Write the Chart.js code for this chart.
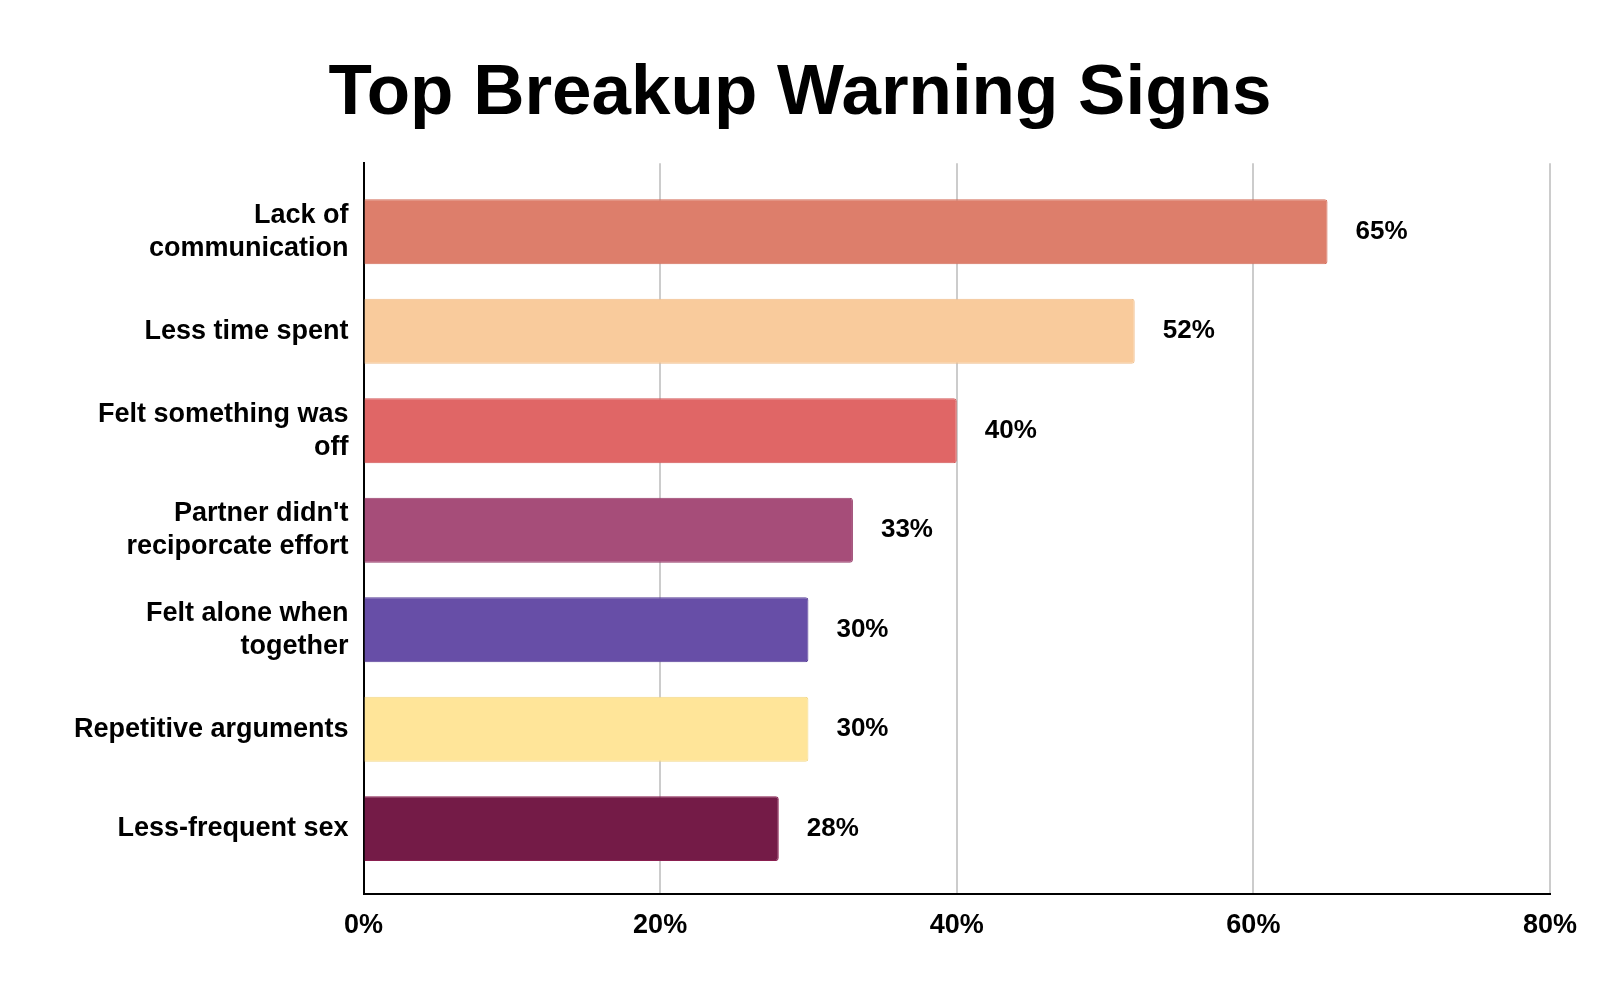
<!DOCTYPE html>
<html>
<head>
<meta charset="utf-8">
<title>Top Breakup Warning Signs</title>
<script src="https://cdn.jsdelivr.net/npm/chart.js@4.4.0/dist/chart.umd.min.js"></script>
<style>
	html, body {margin: 0; padding: 0; background: #fff;}
	#wrap {width: 1600px; height: 990px;}
</style>
</head>
<body>
<div id="wrap"><canvas id="breakupChart"></canvas></div>
<script>
// DATA
var categories = [
	['Lack of', 'communication'],
	['Less time spent'],
	['Felt something was', 'off'],
	["Partner didn't", 'reciporcate effort'],
	['Felt alone when', 'together'],
	['Repetitive arguments'],
	['Less-frequent sex']
];
var percents = [65, 52, 40, 33, 30, 30, 28];
var xTicks = [0, 20, 40, 60, 80];
var barColors = ['#dd7e6b', '#f9cb9c', '#e06666', '#a64d79', '#674ea7', '#ffe599', '#741b47'];
var borderColors = ['#d4705c', '#efbf8e', '#d45a5a', '#973f6b', '#5a4199', '#f2d88a', '#8a1f50'];

Chart.defaults.font.family = '"Liberation Sans", Arial, sans-serif';
Chart.defaults.font.weight = 'bold';
Chart.defaults.color = '#000';

// value text after each bar
var valueLabels = {
	id: 'valueLabels',
	afterDatasetsDraw: function(chart) {
		var ctx = chart.ctx;
		var meta = chart.getDatasetMeta(0);
		ctx.save();
		ctx.font = 'bold 26px "Liberation Sans", Arial, sans-serif';
		ctx.fillStyle = '#000';
		ctx.textAlign = 'left';
		ctx.textBaseline = 'middle';
		meta.data.forEach(function(bar, i) {
			ctx.fillText(percents[i] + '%', bar.x + 28, bar.y);
		});
		ctx.restore();
	}
};

new Chart('breakupChart', {
	type: 'bar',
	data: {
		datasets: [{
			data: percents.map(function(v, i) { return {x: v, y: i}; }),
			backgroundColor: barColors,
			borderColor: borderColors,
			borderWidth: 1,
			borderRadius: 3,
			categoryPercentage: 1,
			barPercentage: 0.653
		}]
	},
	options: {
		indexAxis: 'y',
		responsive: true,
		maintainAspectRatio: false,
		animation: false,
		layout: {padding: {left: 50, right: 50, top: 0, bottom: 32}},
		plugins: {
			legend: {display: false},
			tooltip: {enabled: false},
			title: {
				display: true,
				text: 'Top Breakup Warning Signs',
				color: '#000',
				font: {size: 71, weight: 'bold'},
				padding: {top: 52, bottom: 26}
			}
		},
		scales: {
			x: {
				min: xTicks[0],
				max: xTicks[xTicks.length - 1],
				afterBuildTicks: function(scale) {
					scale.ticks = xTicks.map(function(v) { return {value: v}; });
				},
				ticks: {
					font: {size: 27, weight: 'bold'},
					padding: 16,
					callback: function(v) { return v + '%'; }
				},
				grid: {color: '#cccccc', lineWidth: 2, drawTicks: false},
				border: {display: true, color: '#000', width: 2}
			},
			y: {
				type: 'linear',
				offset: false,
				reverse: true,
				min: -0.69,
				max: 6.653,
				afterBuildTicks: function(scale) {
					scale.ticks = categories.map(function(c, i) { return {value: i}; });
				},
				afterFit: function(scale) {
					scale.width = 313.5;
				},
				ticks: {
					font: {size: 27, weight: 'bold', lineHeight: 1.23},
					padding: 15,
					callback: function(v) { return categories[v]; }
				},
				grid: {display: false, drawTicks: false},
				border: {display: true, color: '#000', width: 2}
			}
		}
	},
	plugins: [valueLabels]
});
</script>
</body>
</html>
